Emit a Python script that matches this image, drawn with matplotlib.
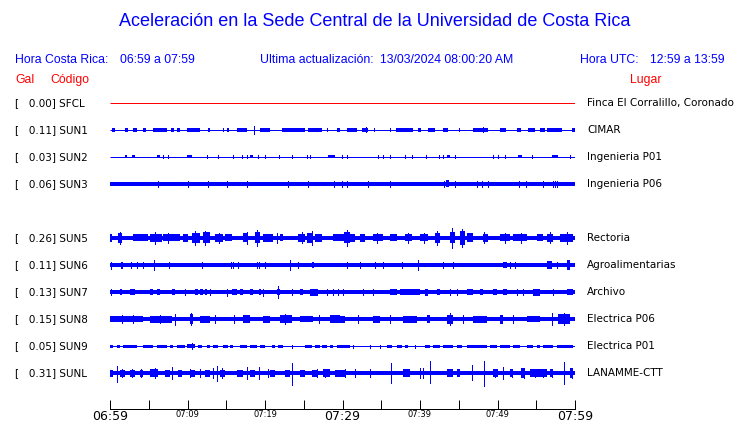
import numpy as np
import matplotlib.pyplot as plt
import matplotlib.transforms as mtransforms

# ---- station table (top to bottom), SUN4 slot is empty ----
codes = ['SFCL', 'SUN1', 'SUN2', 'SUN3', None, 'SUN5', 'SUN6', 'SUN7', 'SUN8', 'SUN9', 'SUNL']
gal = [0.00, 0.11, 0.03, 0.06, None, 0.26, 0.11, 0.13, 0.15, 0.05, 0.31]
places = ['Finca El Corralillo, Coronado', 'CIMAR', 'Ingenieria P01', 'Ingenieria P06', None,
          'Rectoria', 'Agroalimentarias', 'Archivo', 'Electrica P06', 'Electrica P01', 'LANAMME-CTT']

tick_labels = ['06:59', '', '07:09', '', '07:19', '', '07:29', '', '07:39', '', '07:49', '', '07:59']
big_labels = ['06:59', '07:29', '07:59']

# trace amplitudes (minutes after 06:59, amplitude in counts)
# base: background noise level of each trace
base_amp = [0.0, 0.5, 0.5, 1.8, None, 2.4, 2.0, 2.0, 2.4, 0.5, 2.4]

# bursts: (start_min, end_min, amp)
sun1_bursts = [(0.3, 0.6, 1.7), (1.9, 2.3, 1.7), (3.0, 3.5, 1.7), (4.3, 4.6, 1.7), (5.5, 7.4, 2.3),
               (7.9, 8.3, 1.7), (8.6, 9.0, 1.7), (9.9, 11.6, 2.0), (12.6, 12.9, 1.7), (15.1, 15.4, 1.7),
               (16.4, 17.7, 2.0), (19.4, 20.6, 1.7), (22.2, 25.2, 1.8), (25.5, 27.4, 1.8), (29.3, 29.7, 1.7),
               (30.6, 31.9, 1.8), (32.5, 33.3, 2.3), (36.9, 39.1, 1.8), (39.7, 40.1, 1.7), (41.0, 41.9, 1.7),
               (43.0, 43.6, 1.7), (46.8, 48.8, 1.8), (50.3, 51.1, 1.7), (52.5, 53.0, 1.7), (53.9, 54.8, 1.7),
               (55.5, 56.1, 1.7), (56.4, 58.3, 1.8), (59.6, 60.0, 1.7)]
sun1_spikes = [(18.6, 4.0), (14.6, 1.5), (28.0, 1.5), (33.0, 2.5), (34.0, 1.5), (36.1, 1.5),
               (45.0, 1.5), (48.1, 2.5)]

sun2_bursts = [(1.9, 2.2, 1.5), (2.8, 3.2, 1.5), (6.1, 6.5, 1.5), (9.9, 10.6, 1.5), (18.1, 18.5, 1.5),
               (28.1, 29.0, 1.5), (43.5, 43.9, 1.5), (52.6, 53.2, 1.5), (57.0, 57.8, 1.5)]
sun2_spikes = [(m, 1.5) for m in [6.8, 7.5, 12.5, 13.9, 15.9, 17.0, 17.7, 19.1, 20.0, 21.8, 23.5, 25.4,
                                  25.8, 29.9, 30.6, 34.6, 35.2, 36.1, 38.1, 39.0, 40.8, 42.5, 43.0, 44.5,
                                  49.4, 50.0, 51.0, 54.5, 59.4]]

sun3_bursts = [(43.4, 43.8, 3.5)]
sun3_spikes = [(m, 3.0) for m in [6.2, 10.1, 12.6, 15.1, 17.7, 23.0, 25.5, 28.9, 29.9, 30.6, 33.3, 36.1,
                                  43.1, 44.5, 47.4, 48.0, 48.8, 52.8, 53.7, 55.9, 57.2, 57.4, 57.7]]

sun5_bursts = [(0.0, 0.3, 4.0), (1.0, 1.5, 5.0), (3.0, 4.9, 3.5), (5.2, 6.7, 4.0), (6.8, 9.0, 3.5),
               (9.4, 10.1, 4.0), (10.6, 11.6, 5.0), (12.0, 12.9, 5.5), (13.5, 14.6, 4.0), (14.8, 15.7, 3.5),
               (17.2, 17.8, 4.5), (18.7, 19.4, 5.5), (19.7, 21.0, 4.0), (21.9, 22.3, 3.5), (24.3, 25.2, 4.0),
               (25.4, 26.2, 5.0), (26.4, 27.3, 4.0), (28.8, 30.2, 3.5), (30.2, 31.0, 5.5), (31.0, 31.6, 4.0),
               (32.3, 32.9, 4.0), (33.9, 35.2, 3.5), (36.1, 37.0, 3.5), (38.1, 39.0, 3.5), (40.0, 41.0, 3.5),
               (41.9, 42.6, 5.0), (43.9, 44.5, 5.5), (45.2, 45.8, 7.0), (46.1, 46.8, 4.5), (48.1, 48.8, 4.0),
               (50.3, 51.6, 3.5), (52.0, 53.8, 3.5), (55.1, 55.9, 3.5), (56.4, 57.1, 4.0), (58.1, 59.7, 4.0)]
sun5_spikes = [(1.3, 6.0), (5.8, 6.0), (11.0, 7.0), (12.3, 7.0), (17.7, 6.0), (19.0, 8.0), (26.1, 7.0),
               (30.6, 8.0), (42.2, 7.0), (44.1, 10.0), (45.4, 9.0), (48.3, 5.5), (59.0, 6.0),
               (7.5, 5.0), (14.0, 5.0), (21.5, 5.0), (24.8, 5.5), (34.5, 5.0), (38.5, 5.0), (40.5, 5.0),
               (51.0, 5.0), (53.0, 5.0), (56.8, 5.5)]

sun6_bursts = [(1.4, 1.7, 3.5), (26.1, 26.3, 3.0), (50.7, 51.2, 3.0), (56.4, 57.0, 4.0), (59.0, 59.3, 5.0)]
sun6_spikes = [(0.1, 3.5), (2.7, 3.0), (3.5, 3.0), (4.3, 3.0), (5.7, 4.5), (7.6, 3.0), (11.9, 3.0),
               (15.6, 3.0), (15.9, 3.0), (16.5, 3.0), (19.0, 3.0), (19.2, 3.0), (20.0, 3.0), (23.2, 4.5),
               (24.3, 3.0), (30.6, 3.0), (32.3, 3.0), (34.2, 3.0), (35.2, 3.0), (37.7, 3.0), (39.7, 4.5),
               (43.0, 3.0), (44.2, 3.0), (51.6, 3.0), (52.2, 3.0), (57.7, 3.0)]

sun7_bursts = [(1.3, 1.5, 3.0), (2.6, 3.2, 3.0), (5.2, 5.5, 3.0), (6.1, 6.5, 3.0), (8.0, 8.4, 3.0),
               (11.0, 11.4, 3.0), (11.6, 12.0, 3.0), (12.3, 12.5, 3.0), (15.7, 16.4, 3.0), (16.8, 17.2, 3.0),
               (18.1, 18.4, 3.0), (19.2, 19.5, 3.0), (21.5, 21.9, 3.0), (24.5, 24.9, 3.0), (25.8, 26.8, 3.5),
               (36.1, 37.0, 3.0), (37.4, 40.0, 2.8), (40.6, 41.0, 3.5), (42.2, 42.6, 3.0), (46.1, 46.8, 3.0),
               (47.7, 48.1, 3.0), (49.4, 49.9, 3.0), (50.7, 51.2, 3.0), (54.6, 55.5, 3.5), (59.0, 59.7, 3.0)]
sun7_spikes = [(0.1, 3.0), (9.7, 3.0), (12.9, 3.0), (15.1, 3.5), (19.7, 3.5), (21.7, 6.0), (23.5, 3.0),
               (28.0, 3.0), (28.8, 3.0), (29.4, 3.0), (30.1, 3.0), (32.6, 3.0), (33.9, 3.0), (43.9, 3.0),
               (44.8, 3.0), (52.5, 3.0), (53.3, 3.0), (57.1, 3.0)]

sun8_bursts = [(0.0, 4.3, 3.2), (5.2, 8.0, 3.5), (10.3, 10.7, 5.0), (11.6, 12.9, 3.5), (17.2, 18.1, 4.0),
               (19.7, 20.6, 3.5), (21.9, 23.5, 4.0), (24.5, 26.2, 3.2), (28.4, 29.7, 4.0), (29.7, 30.3, 3.5),
               (33.9, 34.8, 3.5), (37.8, 39.6, 3.5), (40.9, 41.3, 4.0), (43.5, 44.2, 4.5), (46.8, 48.6, 3.5),
               (50.3, 50.7, 4.5), (53.8, 55.5, 3.2), (57.8, 59.3, 5.0)]
sun8_spikes = [(8.4, 5.5), (10.5, 6.0), (22.6, 5.0), (36.1, 4.5), (43.9, 6.0), (57.0, 6.0), (58.6, 6.0),
               (1.5, 4.5), (3.0, 4.5), (6.5, 4.5), (13.5, 4.0), (16.0, 4.0), (27.0, 4.0), (32.0, 4.0),
               (45.5, 4.0), (52.0, 4.0)]

sun9_bursts = [(0.0, 0.4, 1.5), (0.9, 1.3, 1.5), (1.7, 3.5, 1.5), (4.3, 5.5, 1.5), (6.1, 7.4, 1.5),
               (7.7, 8.1, 1.5), (8.6, 9.7, 1.5), (9.9, 11.0, 2.0), (11.4, 11.9, 1.5), (12.5, 12.9, 1.5),
               (13.3, 13.9, 1.5), (14.6, 15.2, 1.5), (15.5, 15.9, 1.5), (16.8, 17.7, 1.5), (18.1, 19.0, 1.5),
               (19.4, 20.0, 1.5), (20.9, 21.3, 1.5), (21.7, 22.3, 1.5), (25.2, 26.1, 1.5), (26.4, 27.1, 1.5),
               (27.3, 28.0, 1.5), (28.4, 28.8, 1.5), (29.3, 31.0, 1.5), (35.7, 36.4, 1.5), (37.0, 37.7, 1.5),
               (38.1, 38.4, 1.5), (40.6, 41.3, 1.5), (41.7, 42.6, 1.5), (43.0, 44.2, 1.5), (44.8, 45.4, 1.5),
               (46.1, 48.6, 1.5), (49.0, 49.9, 1.5), (50.3, 51.6, 1.5), (52.0, 52.9, 1.5), (53.8, 54.6, 1.5),
               (55.1, 55.5, 1.5), (55.9, 57.1, 1.5), (57.7, 59.7, 1.5)]
sun9_spikes = [(10.6, 3.0), (23.5, 1.5), (31.3, 1.5), (33.5, 1.5), (34.8, 1.5), (39.3, 1.5)]

sunl_bursts = [(0.0, 0.4, 3.5), (1.3, 1.9, 3.5), (2.6, 3.2, 3.5), (3.9, 4.3, 3.5), (5.2, 6.2, 4.0),
               (7.1, 7.7, 3.5), (8.8, 9.3, 3.5), (10.3, 11.0, 3.5), (12.3, 12.9, 3.5), (14.2, 14.8, 3.5),
               (16.4, 17.2, 3.5), (18.1, 18.7, 3.5), (20.6, 21.3, 3.5), (22.6, 23.2, 3.5), (24.5, 25.2, 3.5),
               (26.1, 26.8, 3.5), (27.5, 28.4, 4.0), (29.0, 30.3, 3.5), (37.8, 38.7, 4.0), (43.5, 44.2, 4.0),
               (44.8, 45.2, 4.0), (49.4, 50.0, 4.0), (51.6, 52.0, 4.0), (53.0, 53.4, 5.0), (54.2, 55.5, 4.0),
               (55.5, 56.4, 4.0), (56.8, 57.2, 4.0), (59.3, 59.7, 5.0)]
sunl_spikes = [(0.9, 7.0, 9.0), (1.5, 4.0, 4.0), (2.8, 4.0, 4.0), (4.0, 4.0, 4.0), (5.8, 5.0, 5.0),
               (8.0, 6.0, 6.0), (10.3, 4.0, 4.0), (11.6, 4.0, 4.0), (13.3, 5.0, 5.0), (13.8, 7.0, 8.0),
               (14.4, 5.0, 5.0), (17.7, 6.0, 6.0), (19.2, 6.0, 6.0), (20.4, 4.0, 4.0), (23.5, 10.0, 12.0),
               (26.7, 4.0, 4.0), (27.7, 4.0, 4.0), (30.3, 4.0, 4.0), (31.6, 4.0, 4.0), (33.5, 4.0, 4.0),
               (36.3, 10.0, 10.0), (40.0, 5.0, 5.0), (40.4, 5.0, 5.0), (41.3, 12.0, 10.0), (46.7, 8.0, 7.0),
               (48.2, 12.0, 13.0), (49.7, 4.0, 4.0), (50.7, 6.0, 6.0), (51.9, 4.0, 4.0), (53.4, 5.0, 5.0),
               (54.8, 4.0, 4.0), (55.9, 4.0, 4.0), (57.0, 4.0, 4.0), (58.6, 11.0, 11.0), (59.6, 5.0, 5.0)]

bursts = [[], sun1_bursts, sun2_bursts, sun3_bursts, None, sun5_bursts, sun6_bursts,
          sun7_bursts, sun8_bursts, sun9_bursts, sunl_bursts]
spikes = [[], sun1_spikes, sun2_spikes, sun3_spikes, None, sun5_spikes, sun6_spikes,
          sun7_spikes, sun8_spikes, sun9_spikes, sunl_spikes]

BLUE = '#0000ff'
RED = '#ff0000'
PX = 0.72  # one pixel in points at dpi 100
scale = 1 / 27.0  # counts -> row units

fig = plt.figure(figsize=(7.4, 4.23), dpi=100)
W, H = 740, 423
# axes: x 110..575 px, y 90..409 px (rows every 27 px starting at 103)
ax = fig.add_axes([110 / W, 14 / H, 465 / W, 319 / H])
ax.set_xlim(0, 60)
ax.set_ylim((409 - 103) / 27, (90 - 103) / 27)

for i, code in enumerate(codes):
    if code is None:
        continue
    col = RED if code == 'SFCL' else BLUE
    b = base_amp[i]
    if b < 1:
        ax.hlines(i, 0, 60, color=col, lw=PX, antialiased=True, snap=True)
    else:
        ax.fill_between([0, 60], i - b * scale, i + b * scale, color=col, lw=0, antialiased=False)
    for (s, e, a) in bursts[i]:
        ax.bar((s + e) / 2, 2 * a * scale, width=e - s, bottom=i - a * scale,
               color=col, lw=0, antialiased=False)
    for sp in spikes[i]:
        up = sp[1]
        dn = sp[2] if len(sp) > 2 else sp[1]
        ax.vlines(sp[0], i - up * scale, i + dn * scale, color=col, lw=PX, antialiased=False)

for side in ['top', 'left', 'right']:
    ax.spines[side].set_visible(False)
ax.spines['bottom'].set_linewidth(PX)
ax.set_yticks([])
ax.set_xticks(np.arange(0, 61, 5))
ax.set_xticklabels(tick_labels, family='DejaVu Sans')
ax.tick_params(axis='x', direction='in', length=6.5, width=PX, pad=0.8)
for lab in ax.get_xticklabels():
    lab.set_fontsize(9 if lab.get_text() in big_labels else 6)

# row labels
trans = mtransforms.blended_transform_factory(fig.transFigure, ax.transData)
for i, code in enumerate(codes):
    if code is None:
        continue
    ax.text(15 / W, i, f'[   {gal[i]:.2f}] {code}', transform=trans, fontsize=7.5,
            family='DejaVu Sans', va='center', ha='left')
    ax.text(587 / W, i, places[i], transform=trans, fontsize=7.5,
            family='DejaVu Sans', va='center', ha='left')

hf = 'Liberation Sans'
hs = 8.8
fig.text(375 / W, 1 - 22 / H, 'Aceleración en la Sede Central de la Universidad de Costa Rica',
         color=BLUE, fontsize=13, family=hf, ha='center', va='center')
fig.text(15 / W, 1 - 60 / H, 'Hora Costa Rica:', color=BLUE, fontsize=hs, family=hf, va='center')
fig.text(120 / W, 1 - 60 / H, '06:59 a 07:59', color=BLUE, fontsize=hs, family=hf, va='center')
fig.text(260 / W, 1 - 60 / H, 'Ultima actualización:', color=BLUE, fontsize=hs, family=hf, va='center')
fig.text(380 / W, 1 - 60 / H, '13/03/2024 08:00:20 AM', color=BLUE, fontsize=hs, family=hf, va='center')
fig.text(580 / W, 1 - 60 / H, 'Hora UTC:', color=BLUE, fontsize=hs, family=hf, va='center')
fig.text(650 / W, 1 - 60 / H, '12:59 a 13:59', color=BLUE, fontsize=hs, family=hf, va='center')
fig.text(15 / W, 1 - 80 / H, 'Gal', color=RED, fontsize=hs, family=hf, va='center')
fig.text(50 / W, 1 - 80 / H, 'Código', color=RED, fontsize=hs, family=hf, va='center')
fig.text(630 / W, 1 - 80 / H, 'Lugar', color=RED, fontsize=hs, family=hf, va='center')

fig.savefig('out.png', dpi=100)
